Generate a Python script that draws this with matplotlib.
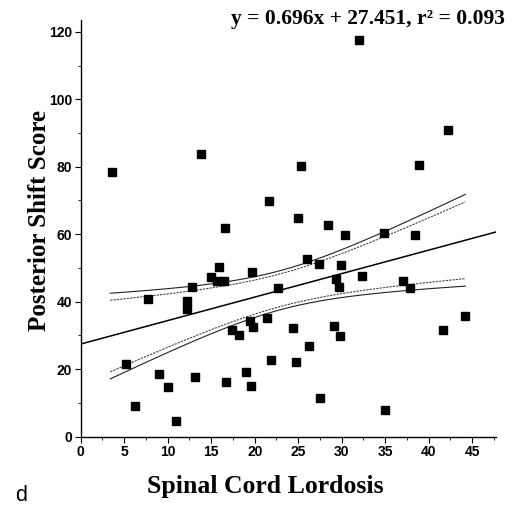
import matplotlib
matplotlib.use('Agg')
import matplotlib.pyplot as plt
from matplotlib.ticker import MultipleLocator
import numpy as np

# values
lordosis = [3.6, 5.2, 6.2, 7.7, 9.0, 10.0, 11.0, 12.2, 12.2, 12.8, 13.1, 13.8,
            15.0, 15.7, 15.9, 16.5, 16.6, 16.7, 17.4, 18.2, 19.0, 19.5, 19.8,
            19.65, 19.6, 21.4, 21.6, 21.9, 22.7, 24.4, 24.7, 25.0, 25.3, 26.0,
            26.2, 27.4, 27.5, 28.4, 29.1, 29.4, 29.7, 29.8, 29.9, 30.4, 32.0,
            32.3, 34.9, 35.0, 37.0, 37.8, 38.4, 38.9, 41.6, 42.2, 44.2]
shift = [78.5, 21.6, 9.2, 40.9, 18.5, 14.8, 4.7, 40.1, 37.9, 44.4, 17.8, 83.7,
         47.4, 46.0, 50.4, 46.0, 61.9, 16.2, 31.7, 30.2, 19.3, 34.3, 32.4,
         48.7, 15.0, 35.3, 69.8, 22.7, 44.1, 32.1, 22.0, 64.8, 80.1, 52.6,
         26.9, 51.2, 11.4, 62.7, 32.8, 46.7, 44.4, 29.9, 50.8, 59.7, 117.5,
         47.5, 60.3, 8.0, 46.1, 44.2, 59.7, 80.5, 31.7, 90.8, 35.8]

slope = 0.696
intercept = 27.451
r2 = 0.093

x = np.array(lordosis)
y = np.array(shift)
n = len(x)

# confidence bands around the fitted line (95% and 90%)
resid = y - (slope * x + intercept)
s = np.sqrt(np.sum(resid ** 2) / (n - 2))
sxx = np.sum((x - x.mean()) ** 2)
xb = np.linspace(x.min() - 0.2, x.max(), 100)
yb = slope * xb + intercept
se = s * np.sqrt(1.0 / n + (xb - x.mean()) ** 2 / sxx)

fig = plt.figure(figsize=(5.19, 5.12), dpi=100)
ax = fig.add_axes([0.1555, 0.1471, 0.7996, 0.8139])

ax.plot(x, y, 's', color='black', markersize=5.8, zorder=3)

xl = np.array([0, 47.7])
ax.plot(xl, slope * xl + intercept, color='black', lw=1.1)

ax.plot(xb, yb + 1.95 * se, color='#222222', lw=0.8)
ax.plot(xb, yb - 1.95 * se, color='#222222', lw=0.8)
ax.plot(xb, yb + 1.63 * se, color='#444444', lw=0.8, dashes=(2, 1))
ax.plot(xb, yb - 1.63 * se, color='#444444', lw=0.8, dashes=(2, 1))

ax.set_xlim(0, 47.7)
ax.set_ylim(0, 123.5)
ax.spines['top'].set_visible(False)
ax.spines['right'].set_visible(False)
ax.spines['left'].set_linewidth(1.0)
ax.spines['bottom'].set_linewidth(1.0)

ax.xaxis.set_major_locator(MultipleLocator(5))
ax.xaxis.set_minor_locator(MultipleLocator(2.5))
ax.yaxis.set_major_locator(MultipleLocator(20))
ax.yaxis.set_minor_locator(MultipleLocator(10))
ax.tick_params(which='major', direction='out', length=4, width=0.8, pad=2)
ax.tick_params(which='minor', direction='out', length=2.5, width=0.6)
for lab in ax.get_xticklabels() + ax.get_yticklabels():
    lab.set_fontfamily('Liberation Sans')
    lab.set_fontweight('bold')
    lab.set_fontsize(10)

fig.text(0.973, 0.953, 'y = 0.696x + 27.451, r\u00b2 = 0.093', ha='right', va='baseline',
         fontfamily='Liberation Serif', fontweight='bold', fontsize=15.5)
fig.text(0.5116, 0.037, 'Spinal Cord Lordosis', ha='center', va='baseline',
         fontfamily='Liberation Serif', fontweight='bold', fontsize=18.5)
fig.text(0.076, 0.57, 'Posterior Shift Score', ha='center', va='center', rotation=90,
         fontfamily='Liberation Serif', fontweight='bold', fontsize=18)
fig.text(0.03, 0.021, 'd', ha='left', va='baseline',
         fontfamily='Liberation Sans', fontsize=15.5)

fig.savefig('out.png', dpi=100)
